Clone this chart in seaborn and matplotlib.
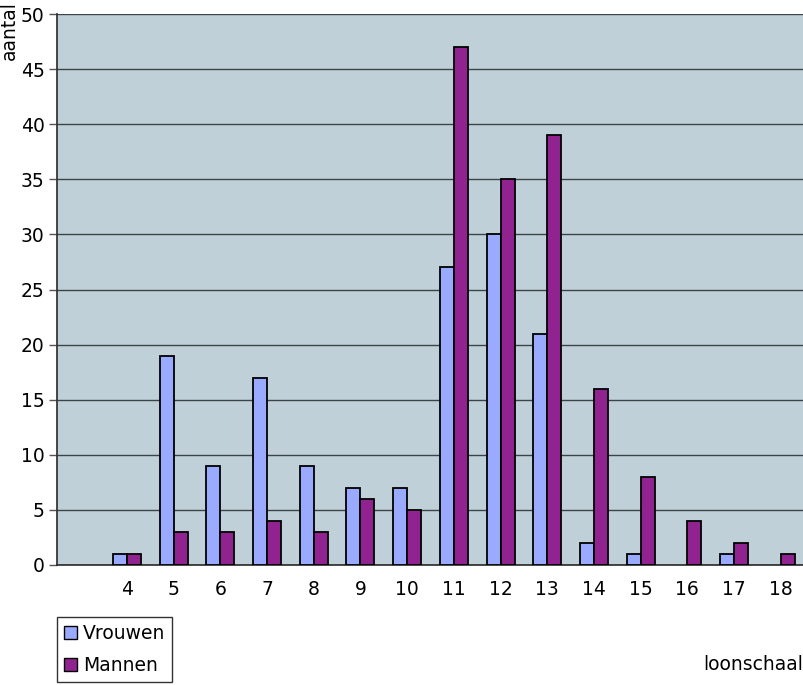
import pandas as pd
import matplotlib.pyplot as plt
import seaborn as sns
from matplotlib.patches import Patch

loonschaal = ["4", "5", "6", "7", "8", "9", "10", "11", "12", "13", "14", "15", "16", "17", "18"]
vrouwen = [1, 19, 9, 17, 9, 7, 7, 27, 30, 21, 2, 1, 0, 1, 0]
mannen = [1, 3, 3, 4, 3, 6, 5, 47, 35, 39, 16, 8, 4, 2, 1]
series = ["Vrouwen", "Mannen"]
colors = ["#99aaff", "#912391"]


def main():
    sns.set_theme(style="white")
    plt.rcParams["font.family"] = ["DejaVu Sans"]
    plt.rcParams["text.color"] = "black"
    fs = 13.5

    data = pd.DataFrame({
        "loonschaal": loonschaal * 2,
        "aantal": vrouwen + mannen,
        "geslacht": [series[0]] * len(vrouwen) + [series[1]] * len(mannen),
    })

    fig = plt.figure(figsize=(8.04, 6.85), dpi=100)
    ax = fig.add_axes([57 / 804, 1 - 565 / 685, 1 - 57 / 804, (565 - 14) / 685])

    sns.barplot(data=data, x="loonschaal", y="aantal", hue="geslacht",
                order=loonschaal, hue_order=series, palette=colors, saturation=1,
                width=0.6, edgecolor="black", linewidth=1.3, ax=ax,
                legend=False, zorder=3)
    # empty bars are not drawn in the original
    for p in ax.patches:
        if p.get_height() == 0:
            p.set_visible(False)

    ax.set_facecolor("#c0d0d8")
    ax.set_xlim(-1.5, len(loonschaal) - 0.5)
    ax.set_ylim(0, 50)
    ax.set_yticks(range(0, 51, 5))
    ax.yaxis.grid(True, color="#3c4448", linewidth=1.0, zorder=0)
    ax.set_axisbelow(True)
    ax.set_xlabel("")
    ax.set_ylabel("")
    ax.tick_params(axis="y", left=True, length=6, width=1, color="#555555",
                   labelsize=fs, pad=3, labelcolor="black")
    ax.tick_params(axis="x", bottom=False, labelsize=fs, pad=5, labelcolor="black")
    for side in ["top", "right"]:
        ax.spines[side].set_visible(False)
    ax.spines["left"].set_color("#303030")
    ax.spines["bottom"].set_color("#303030")

    fig.text(0.0, 0.999, "aantal", rotation=90, ha="left", va="top", fontsize=fs)
    fig.text(0.999, 1 - 664 / 685, "loonschaal", ha="right", va="center", fontsize=fs)

    handles = [Patch(facecolor=c, edgecolor="black", label=s) for c, s in zip(colors, series)]
    leg = fig.legend(handles=handles, loc="upper left",
                     bbox_to_anchor=(57 / 804, 1 - 617 / 685),
                     fontsize=fs, frameon=True, fancybox=False,
                     handlelength=0.7, handleheight=0.7, handletextpad=0.3,
                     labelspacing=0.7, borderpad=0.38, borderaxespad=0)
    leg.get_frame().set_edgecolor("black")
    leg.get_frame().set_linewidth(1.0)

    plt.savefig("out.png", dpi=100)


if __name__ == "__main__":
    main()
